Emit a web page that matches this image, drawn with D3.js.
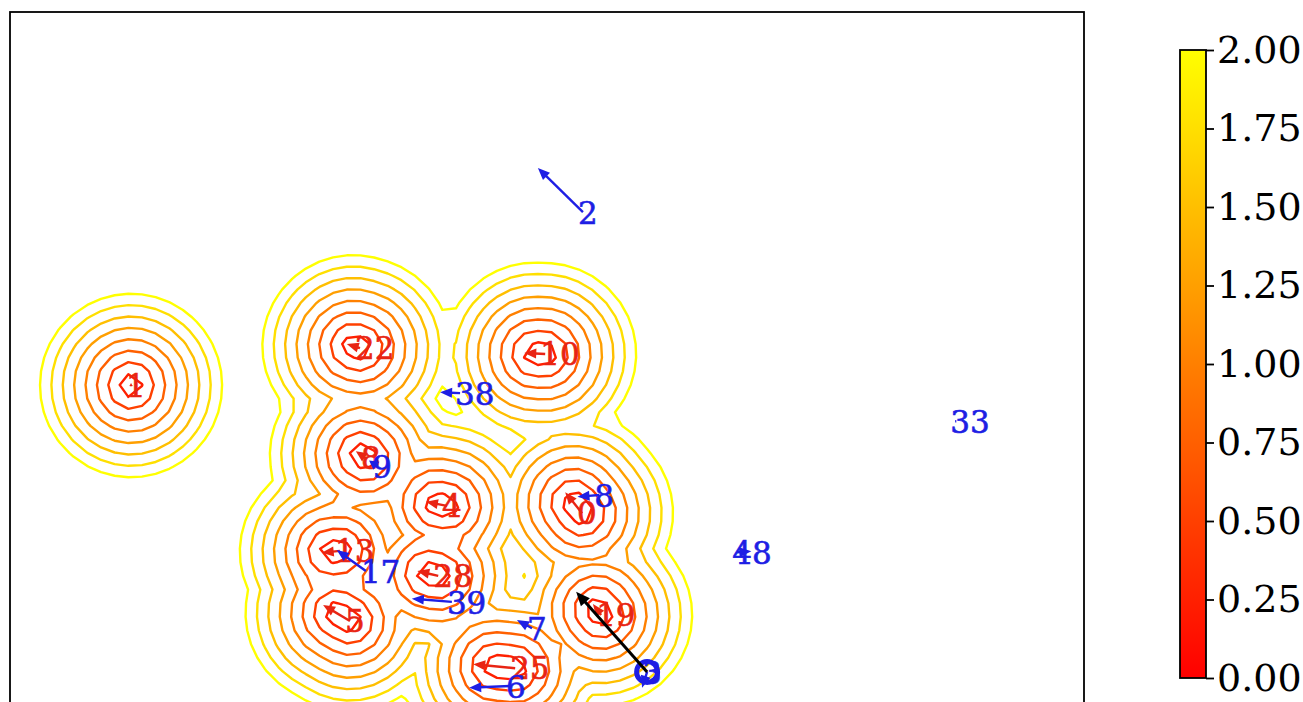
<!DOCTYPE html>
<html>
<head>
<meta charset="utf-8">
<script src="https://cdn.jsdelivr.net/npm/d3@7"></script>
<style>
  html, body { margin: 0; padding: 0; background: #fff; }
  svg { display: block; }
  text { font-family: "DejaVu Serif", serif; }
</style>
</head>
<body>
<svg id="chart" width="1303" height="702"></svg>
<script>
// Agents that shape the distance field (red) : id, position, velocity arrow
const redIds = ["1", "22", "10", "8", "4", "13", "28", "5", "25", "0", "19"];
const redX   = [2.66, 7.69, 11.76, 7.82, 9.60, 7.25, 9.41, 7.47, 11.10, 12.57, 12.99];
const redY   = [7.47, 8.31, 8.18, 5.89, 4.84, 3.85, 3.30, 2.31, 1.27, 4.68, 2.44];
const redDX  = [0.00, -0.29, -0.46, -0.22, -0.46, -0.40, -0.46, -0.59, -0.92, -0.37, -0.18];
const redDY  = [0.07, 0.09, 0.02, 0.15, 0.09, -0.04, 0.11, 0.35, 0.09, 0.46, 0.24];

// Other agents (blue)
const blueIds = ["2", "38", "33", "9", "8", "48", "17", "39", "7", "6", "3"];
const blueX   = [12.59, 9.89, 20.77, 8.07, 12.95, 15.98, 7.82, 9.71, 11.47, 11.01, 14.00];
const blueY   = [11.30, 7.32, 6.70, 5.71, 5.08, 3.82, 3.41, 2.73, 2.15, 0.88, 1.19];
const blueDX  = [-0.99, -0.44, 0.02, -0.18, -0.48, 0.31, -0.64, -0.88, -0.33, -0.92, -0.11];
const blueDY  = [0.97, 0.02, 0.00, 0.13, -0.04, 0.02, 0.46, 0.07, 0.18, -0.04, -0.35];

// Ego agent and its commanded motion
const egoId = "3";
const egoCmd = [-1.56, 1.76];

// Contour levels and colour bar ticks
const levels = [0.25, 0.5, 0.75, 1.0, 1.25, 1.5, 1.75, 2.0];
const cbarTicks = [0, 0.25, 0.5, 0.75, 1.0, 1.25, 1.5, 1.75, 2.0];
const sweep = 0.5;   // fraction of each velocity arrow swept by the field

const svg = d3.select("#chart");
const plot = { left: 10, top: 12, right: 1084, bottom: 726 };

const xs = d3.scaleLinear().domain([0, 23.6]).range([plot.left, plot.right]);
const ys = d3.scaleLinear().domain([0, 15.7]).range([plot.bottom, plot.top]);

const autumn = t => `rgb(255,${Math.round(255 * Math.max(0, Math.min(1, t)))},0)`;
const cnorm = d3.scaleLinear().domain([0, 2]).range([0, 1]);

const defs = svg.append("defs");
defs.append("clipPath").attr("id", "plotclip")
  .append("rect").attr("x", plot.left).attr("y", plot.top)
  .attr("width", plot.right - plot.left).attr("height", plot.bottom - plot.top);

// ---- distance field on a coarse grid ----
const step = 0.3, gx0 = -1, gy0 = -3;
const nx = 88, ny = 68;
const reds = redIds.map((id, i) => ({ id, x: redX[i], y: redY[i], dx: redDX[i], dy: redDY[i] }));
function segDist(px, py, a) {
  const vx = sweep * a.dx, vy = sweep * a.dy;
  const L2 = vx * vx + vy * vy;
  let t = L2 > 0 ? ((px - a.x) * vx + (py - a.y) * vy) / L2 : 0;
  t = Math.max(0, Math.min(1, t));
  const qx = a.x + t * vx - px, qy = a.y + t * vy - py;
  return Math.sqrt(qx * qx + qy * qy);
}
const values = new Float64Array(nx * ny);
for (let j = 0; j < ny; j++) {
  for (let i = 0; i < nx; i++) {
    const px = gx0 + i * step, py = gy0 + j * step;
    let m = Infinity;
    for (const a of reds) m = Math.min(m, segDist(px, py, a));
    values[j * nx + i] = -m;
  }
}
const contours = d3.contours().size([nx, ny]).thresholds(levels.map(l => -l))(values);
const toPx = d3.geoTransform({
  point: function (cx, cy) {
    this.stream.point(xs(gx0 + (cx - 0.5) * step), ys(gy0 + (cy - 0.5) * step));
  }
});
const cpath = d3.geoPath(toPx);

const gPlot = svg.append("g").attr("clip-path", "url(#plotclip)");
gPlot.selectAll("path.contour").data(contours).join("path")
  .attr("class", "contour")
  .attr("d", cpath)
  .attr("fill", "none")
  .attr("stroke", d => autumn(cnorm(-d.value)))
  .attr("stroke-width", 2.4)
  .attr("stroke-linejoin", "round");

// ---- arrows ----
function arrow(g, x0, y0, x1, y1, color, lw, headL, headW) {
  const dx = x1 - x0, dy = y1 - y0;
  const len = Math.hypot(dx, dy);
  if (len < 1e-6) return;
  const ux = dx / len, uy = dy / len;
  const hl = Math.min(headL, len * 0.9), hw = Math.min(headW, hl * 1.1);
  const bx = x1 - ux * hl, by = y1 - uy * hl;
  g.append("line").attr("x1", x0).attr("y1", y0).attr("x2", bx + ux).attr("y2", by + uy)
    .attr("stroke", color).attr("stroke-width", lw);
  g.append("path")
    .attr("d", `M${x1},${y1}L${bx - uy * hw / 2},${by + ux * hw / 2}L${bx + uy * hw / 2},${by - ux * hw / 2}Z`)
    .attr("fill", color);
}

const RED = "rgb(232,36,20)", BLUE = "rgb(30,30,228)";
const gRed = gPlot.append("g");
reds.forEach(a => {
  arrow(gRed, xs(a.x), ys(a.y), xs(a.x + a.dx), ys(a.y + a.dy), RED, 2.4, 12, 10);
});
gRed.selectAll("text").data(reds).join("text")
  .attr("x", d => xs(d.x) - 5).attr("y", d => ys(d.y))
  .attr("dominant-baseline", "central")
  .attr("font-size", 31).attr("fill", RED)
  .attr("stroke", RED).attr("stroke-width", 0.6)
  .text(d => d.id);

const blues = blueIds.map((id, i) => ({ id, x: blueX[i], y: blueY[i], dx: blueDX[i], dy: blueDY[i] }));
const gBlue = gPlot.append("g");
blues.forEach(a => {
  arrow(gBlue, xs(a.x), ys(a.y), xs(a.x + a.dx), ys(a.y + a.dy), BLUE, 2.4, 12, 10);
});
gBlue.selectAll("text").data(blues).join("text")
  .attr("x", d => xs(d.x) - 5).attr("y", d => ys(d.y) + 1)
  .attr("dominant-baseline", "central")
  .attr("font-size", 31).attr("fill", BLUE)
  .attr("stroke", BLUE).attr("stroke-width", 0.6)
  .text(d => d.id);

// ego marker and commanded arrow
const ego = blues.find(b => b.id === egoId);
gPlot.append("circle").attr("cx", xs(ego.x)).attr("cy", ys(ego.y)).attr("r", 10.5)
  .attr("fill", "none").attr("stroke", BLUE).attr("stroke-width", 5);
arrow(gPlot, xs(ego.x), ys(ego.y), xs(ego.x + egoCmd[0]), ys(ego.y + egoCmd[1]), "#000", 3, 14, 12);

// axes frame
svg.append("rect").attr("x", plot.left).attr("y", plot.top)
  .attr("width", plot.right - plot.left).attr("height", plot.bottom - plot.top)
  .attr("fill", "none").attr("stroke", "#000").attr("stroke-width", 1.8);

// ---- colour bar ----
const cb = { x: 1180, w: 26, top: 50, bottom: 678 };
const grad = defs.append("linearGradient").attr("id", "autumnGrad")
  .attr("x1", 0).attr("y1", 1).attr("x2", 0).attr("y2", 0);
grad.append("stop").attr("offset", 0).attr("stop-color", autumn(0));
grad.append("stop").attr("offset", 1).attr("stop-color", autumn(1));
svg.append("rect").attr("x", cb.x).attr("y", cb.top).attr("width", cb.w)
  .attr("height", cb.bottom - cb.top).attr("fill", "url(#autumnGrad)")
  .attr("stroke", "#000").attr("stroke-width", 1.8);
const cs = d3.scaleLinear().domain([0, 2]).range([cb.bottom, cb.top]);
const cAxis = svg.append("g").attr("transform", `translate(${cb.x + cb.w},0)`)
  .call(d3.axisRight(cs).tickValues(cbarTicks).tickFormat(d3.format(".2f")).tickSize(8).tickPadding(3));
cAxis.select(".domain").remove();
cAxis.selectAll(".tick line").attr("stroke", "#000").attr("stroke-width", 1.8);
cAxis.selectAll(".tick text").attr("font-size", 38).attr("fill", "#000")
  .attr("font-family", "DejaVu Serif");
</script>
</body>
</html>
